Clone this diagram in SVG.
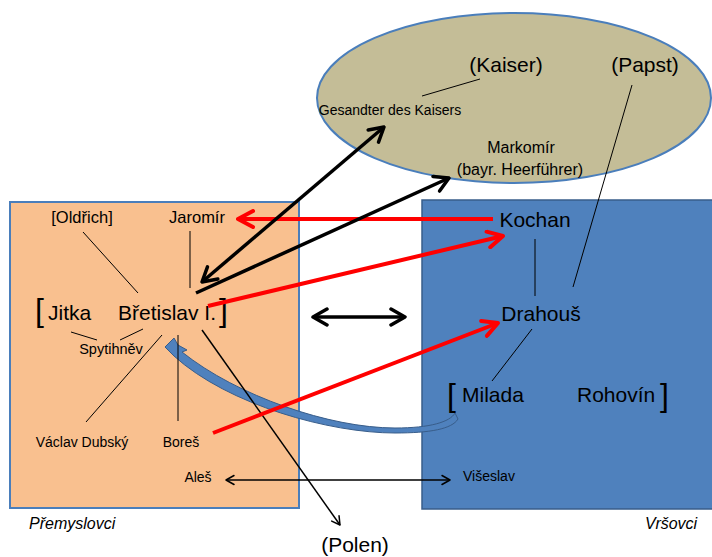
<svg xmlns="http://www.w3.org/2000/svg" width="712" height="557" viewBox="0 0 712 557">
<style>
text{font-family:"Liberation Sans",Arial,sans-serif;fill:#000}
.big{font-size:21px}
.mid{font-size:16.5px}
.sm{font-size:14px}
.it{font-size:16px;font-style:italic}
.br{font-size:32px}
.thin{stroke:#000;stroke-width:1;fill:none}
.red{stroke:#ff0000;stroke-width:4;fill:none}
.blk{stroke:#000;stroke-width:3.5;fill:none}
.blk2{stroke:#000;stroke-width:1.5;fill:none}
</style>
<defs>
<marker id="rV" viewBox="0 0 20 20" refX="18" refY="10" markerWidth="20" markerHeight="20" markerUnits="userSpaceOnUse" orient="auto-start-reverse">
<path d="M3,2 L18,10 L3,18" fill="none" stroke="#ff0000" stroke-width="4" stroke-linecap="round" stroke-linejoin="round"/>
</marker>
<marker id="bV" viewBox="0 0 20 20" refX="18" refY="10" markerWidth="20" markerHeight="20" markerUnits="userSpaceOnUse" orient="auto-start-reverse">
<path d="M4,2 L18,10 L4,18" fill="none" stroke="#000" stroke-width="3.5" stroke-linecap="round" stroke-linejoin="round"/>
</marker>
<marker id="tV" viewBox="0 0 12 12" refX="11" refY="6" markerWidth="12" markerHeight="12" markerUnits="userSpaceOnUse" orient="auto-start-reverse">
<path d="M3,1.5 L11,6 L3,10.5" fill="none" stroke="#000" stroke-width="1.5" stroke-linecap="round" stroke-linejoin="round"/>
</marker>
</defs>

<g id="premyslovci">
<rect x="10" y="202" width="289" height="306" fill="#f9c08f" stroke="#4a7ebb" stroke-width="2"/>
<text class="it" x="29" y="529">Přemyslovci</text>
</g>
<g id="vrsovci">
<rect x="422" y="200" width="295" height="309" fill="#4f81bd" stroke="#385d8a" stroke-width="1.5"/>
<text class="it" x="645" y="529">Vršovci</text>
</g>
<g id="ausland">
<ellipse cx="514" cy="98" rx="197" ry="85" fill="#c4bd97" stroke="#4a7ebb" stroke-width="2"/>
</g>

<g id="kaiser"><text class="big" x="506" y="72" text-anchor="middle">(Kaiser)</text></g>
<g id="papst"><text class="big" x="645" y="72" text-anchor="middle">(Papst)</text></g>
<g id="gesandter"><text class="sm" x="390" y="115" text-anchor="middle">Gesandter des Kaisers</text></g>
<g id="markomir">
<text font-size="16" x="521" y="153" text-anchor="middle">Markomír</text>
<text font-size="16" x="520" y="175" text-anchor="middle">(bayr. Heerführer)</text>
</g>

<g id="oldrich"><text class="mid" x="82" y="223" text-anchor="middle">[Oldřich]</text></g>
<g id="jaromir"><text class="mid" x="197" y="223" text-anchor="middle">Jaromír</text></g>
<g id="jitka"><text class="br" x="35" y="321">[</text><text class="big" x="48" y="320">Jitka</text></g>
<g id="bretislav"><text class="big" x="118" y="320">Břetislav I.</text><text class="br" x="219" y="321">]</text></g>
<g id="spytihnev"><text font-size="14.5" x="111" y="354" text-anchor="middle">Spytihněv</text></g>
<g id="vaclav"><text class="sm" x="82" y="447" text-anchor="middle">Václav Dubský</text></g>
<g id="bores"><text class="sm" x="181" y="447" text-anchor="middle">Boreš</text></g>
<g id="ales"><text class="sm" x="198" y="482" text-anchor="middle">Aleš</text></g>
<g id="polen"><text class="big" x="355" y="552" text-anchor="middle">(Polen)</text></g>

<g id="kochan"><text class="big" x="535" y="227" text-anchor="middle">Kochan</text></g>
<g id="drahous"><text class="big" x="541" y="321" text-anchor="middle">Drahouš</text></g>
<g id="milada"><text class="br" x="447" y="406">[</text><text class="big" x="462" y="402">Milada</text></g>
<g id="rohovin"><text class="big" x="577" y="402">Rohovín</text><text class="br" x="660" y="406">]</text></g>
<g id="viseslav"><text class="sm" x="463" y="481">Višeslav</text></g>

<g id="connectors">
<path d="M187,350 L182,352 C237,396 330,428 395,428 C430,428 450,422 455,413 L458,419 C452,429 430,433 395,433 C330,433 228,405 174,356 L165,347 L174,338 L178,345 Z" fill="#4f81bd" stroke="#385d8a" stroke-width="1" stroke-linejoin="round"/>
<line class="thin" x1="480" y1="79" x2="422" y2="96"/>
<line class="thin" x1="632" y1="85" x2="573" y2="287"/>
<line class="thin" x1="83" y1="232" x2="138" y2="293"/>
<line class="thin" x1="190" y1="231" x2="190" y2="288" stroke="#333"/>
<line class="thin" x1="71" y1="332" x2="97" y2="340"/>
<line class="thin" x1="143" y1="329" x2="120" y2="340"/>
<line class="thin" x1="162" y1="335" x2="86" y2="422"/>
<line class="thin" x1="178" y1="335" x2="178" y2="421"/>
<line class="thin" x1="535" y1="239" x2="535" y2="296"/>
<line class="thin" x1="532" y1="329" x2="492" y2="381"/>
<line class="blk2" x1="202" y1="330" x2="340" y2="525" marker-end="url(#tV)"/>
<line class="blk2" x1="226" y1="480" x2="450" y2="480" marker-start="url(#tV)" marker-end="url(#tV)"/>
<line class="red" x1="493" y1="219" x2="238" y2="219" marker-end="url(#rV)"/>
<line class="red" x1="208" y1="306" x2="503" y2="236" marker-end="url(#rV)"/>
<line class="red" x1="213" y1="433" x2="498" y2="323" marker-end="url(#rV)"/>
<line class="blk" x1="202" y1="282" x2="384" y2="127" marker-start="url(#bV)" marker-end="url(#bV)"/>
<line class="blk" x1="196" y1="293" x2="449" y2="178" marker-end="url(#bV)"/>
<line class="blk" x1="313" y1="317" x2="405" y2="317" stroke-width="3" marker-start="url(#bV)" marker-end="url(#bV)"/>
</g>
</svg>
